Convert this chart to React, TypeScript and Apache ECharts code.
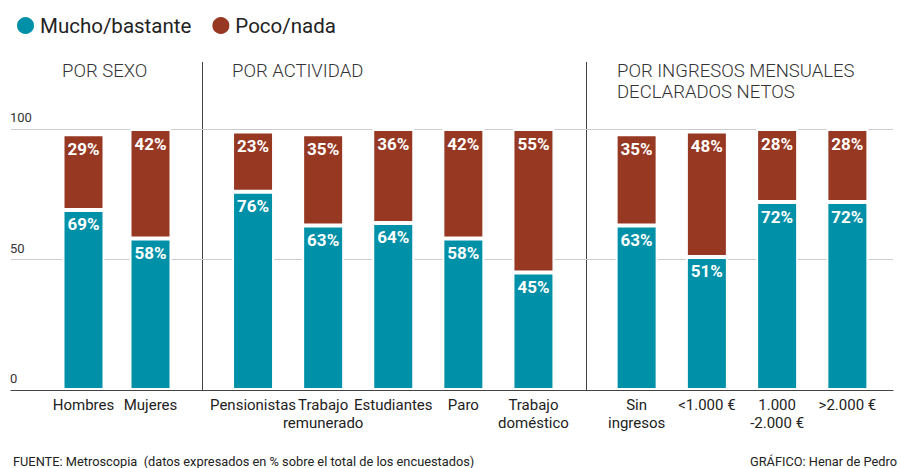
import React, { useEffect, useRef } from "react";
import * as echarts from "echarts";

const seriesNames = ["Mucho/bastante", "Poco/nada"];

const sexoCats = ["Hombres", "Mujeres"];
const sexoMucho = [69, 58];
const sexoPoco = [29, 42];

const actividadCats = ["Pensionistas", "Trabajo\nremunerado", "Estudiantes", "Paro", "Trabajo\ndoméstico"];
const actividadMucho = [76, 63, 64, 58, 45];
const actividadPoco = [23, 35, 36, 42, 55];

const ingresosCats = ["Sin\ningresos", "<1.000 €", "1.000\n-2.000 €", ">2.000 €"];
const ingresosMucho = [63, 51, 72, 72];
const ingresosPoco = [35, 48, 28, 28];

const sectionTitles = ["POR SEXO", "POR ACTIVIDAD", "POR INGRESOS MENSUALES\nDECLARADOS NETOS"];
const yTicks = [0, 50, 100];

const TEAL = "#0091A8";
const BROWN = "#973822";
const FONT = "Roboto, 'Noto Sans', sans-serif";

export default function App() {
  const ref = useRef<HTMLDivElement>(null);

  useEffect(() => {
    if (!ref.current) return;
    const chart = echarts.init(ref.current, undefined, { renderer: "svg" });

    const top = 129;
    const bottom = 78;
    const groupGrids = [
      { left: 50, width: 134 },
      { left: 218, width: 350.5 },
      { left: 601.5, width: 281 },
    ];
    const groups = [
      { cats: sexoCats, mucho: sexoMucho, poco: sexoPoco },
      { cats: actividadCats, mucho: actividadMucho, poco: actividadPoco },
      { cats: ingresosCats, mucho: ingresosMucho, poco: ingresosPoco },
    ];

    const grids: any[] = [{ left: 11, right: 8, top, bottom }];
    const xAxes: any[] = [
      {
        gridIndex: 0,
        type: "category",
        data: [""],
        axisLine: { show: true, lineStyle: { color: "#444", width: 1 } },
        axisTick: { show: false },
        axisLabel: { show: false },
      },
    ];
    const yAxes: any[] = [
      {
        gridIndex: 0,
        type: "value",
        min: yTicks[0],
        max: yTicks[yTicks.length - 1],
        interval: 50,
        axisLine: { show: false },
        axisTick: { show: false },
        splitLine: { show: true, lineStyle: { color: "#cccccc", width: 1 } },
        axisLabel: {
          inside: true,
          margin: -1,
          align: "left",
          verticalAlign: "bottom",
          padding: [0, 0, 5, 0],
          fontSize: 13,
          color: "#333",
          fontFamily: FONT,
        },
      },
    ];
    const series: any[] = [];

    groups.forEach((g, i) => {
      const gi = i + 1;
      grids.push({ left: groupGrids[i].left, width: groupGrids[i].width, top, bottom });
      xAxes.push({
        gridIndex: gi,
        type: "category",
        data: g.cats,
        axisLine: { show: false },
        axisTick: { show: false },
        axisLabel: {
          interval: 0,
          margin: 6,
          fontSize: 15,
          lineHeight: 18,
          color: "#222",
          fontFamily: FONT,
        },
      });
      yAxes.push({
        gridIndex: gi,
        type: "value",
        min: 0,
        max: 100,
        show: false,
      });
      const label = {
        show: true,
        position: "insideTop",
        distance: 6,
        color: "#fff",
        fontWeight: "bold",
        fontSize: 17,
        fontFamily: FONT,
        formatter: "{c}%",
      };
      series.push({
        name: seriesNames[0],
        type: "bar",
        xAxisIndex: gi,
        yAxisIndex: gi,
        stack: "s" + gi,
        barWidth: 42,
        data: g.mucho,
        itemStyle: { color: TEAL, borderColor: "#fff", borderWidth: 2 },
        label,
      });
      series.push({
        name: seriesNames[1],
        type: "bar",
        xAxisIndex: gi,
        yAxisIndex: gi,
        stack: "s" + gi,
        barWidth: 42,
        data: g.poco,
        itemStyle: { color: BROWN, borderColor: "#fff", borderWidth: 2 },
        label,
      });
    });

    const titleStyle = { fill: "#333", fontSize: 18.5, fontWeight: 300, fontFamily: FONT, lineHeight: 21 };
    const footStyle = { fill: "#222", fontSize: 12.8, fontFamily: FONT };

    chart.setOption({
      animation: false,
      color: [TEAL, BROWN],
      legend: {
        data: seriesNames,
        left: 10,
        top: 10,
        icon: "circle",
        itemWidth: 19,
        itemHeight: 19,
        itemGap: 19,
        textStyle: { fontSize: 20.5, color: "#222", fontFamily: FONT },
      },
      grid: grids,
      xAxis: xAxes,
      yAxis: yAxes,
      series,
      graphic: [
        { type: "text", left: 62, top: 60, style: { ...titleStyle, text: sectionTitles[0] } },
        { type: "text", left: 232, top: 60, style: { ...titleStyle, text: sectionTitles[1] } },
        { type: "text", left: 617, top: 60, style: { ...titleStyle, text: sectionTitles[2] } },
        { type: "line", shape: { x1: 202.5, y1: 62, x2: 202.5, y2: 390 }, style: { stroke: "#444", lineWidth: 1 } },
        { type: "line", shape: { x1: 586.5, y1: 62, x2: 586.5, y2: 390 }, style: { stroke: "#444", lineWidth: 1 } },
        {
          type: "text",
          left: 13,
          top: 455,
          style: {
            ...footStyle,
            text: "FUENTE: Metroscopia  (datos expresados en % sobre el total de los encuestados)",
          },
        },
        {
          type: "text",
          right: 4,
          top: 455,
          style: { ...footStyle, text: "GRÁFICO: Henar de Pedro" },
        },
      ],
    });

    return () => chart.dispose();
  }, []);

  return (
    <div
      ref={ref}
      style={{ position: "fixed", left: 0, top: 0, width: 901, height: 468, background: "#fff" }}
    />
  );
}
